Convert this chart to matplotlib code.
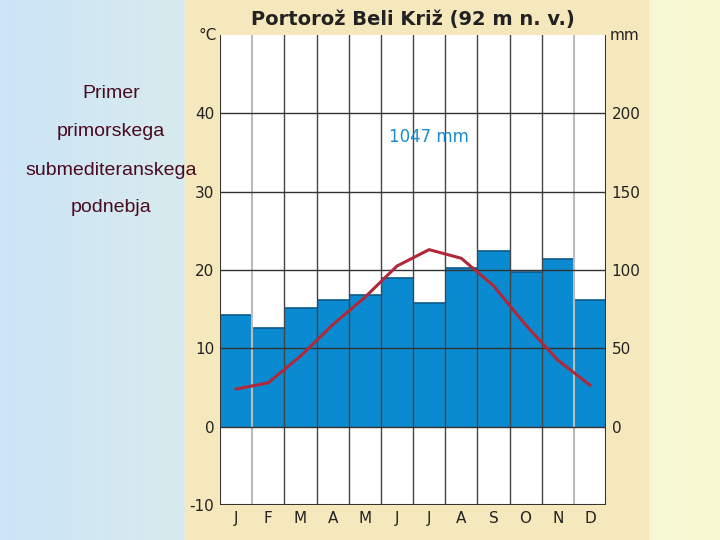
import numpy as np
import matplotlib
matplotlib.use("Agg")
import matplotlib.pyplot as plt

months = ["J", "F", "M", "A", "M", "J", "J", "A", "S", "O", "N", "D"]
precip_mm = [71, 63, 76, 81, 84, 95, 79, 101, 112, 99, 107, 81]
temp_c = [4.8, 5.6, 9.0, 13.0, 16.5, 20.5, 22.6, 21.5, 18.0, 13.0, 8.5, 5.3]
left_ticks = [-10, 0, 10, 20, 30, 40]
right_ticks = [0, 50, 100, 150, 200]

fig = plt.figure(figsize=(7.2, 5.4), dpi=100)
bg = fig.add_axes([0, 0, 1, 1])
g = np.linspace(0, 1, 256)
rgb_l = np.array([0.80, 0.90, 0.97])
rgb_r = np.array([0.98, 0.98, 0.82])
img = rgb_l[None, :] * (1 - g[:, None]) + rgb_r[None, :] * g[:, None]
bg.imshow(img[None, :, :], aspect="auto", extent=[0, 1, 0, 1])
bg.add_patch(plt.Rectangle((185/720, 0), 463/720, 1, color="#f6e8bd", zorder=2))
bg.set_xlim(0, 1); bg.set_ylim(0, 1); bg.axis("off")

for i, t in enumerate(["Primer", "primorskega", "submediteranskega", "podnebja"]):
    fig.text(111/720, 1 - (94 + i*38)/540, t, ha="center", va="center",
             fontsize=14, color="#4a0a20", family="Liberation Sans")

ax = fig.add_axes([220/720, 1 - 505/540, 386/720, 470/540])
x = np.arange(12)
ax.set_xlim(-0.5, 11.5)
ax.set_ylim(-10, 50)
ax2 = ax.twinx()
ax2.set_ylim(-50, 250)
ax2.patch.set_visible(True)
ax2.patch.set_facecolor("white")
ax2.bar(x, precip_mm, width=1.0, color="#0a8ad0", edgecolor="none", zorder=1)
ax2.hlines(precip_mm, x - 0.5, x + 0.5, color="#0a5a8a", lw=1.2, zorder=2)
ax.set_zorder(ax2.get_zorder() + 1); ax.patch.set_visible(False)

for b in np.arange(0.5, 11.5, 1.0):
    c = "#bbbbbb" if b in (0.5, 10.5) else "#444444"
    ax.axvline(b, color=c, lw=1.5 if c == "#bbbbbb" else 1.0, zorder=2)
for t in [0, 10, 20, 30, 40]:
    ax.axhline(t, color="#333333", lw=1.0, zorder=2)
ax.plot(x, temp_c, color="#b0283a", lw=2.2, zorder=3)

ax.set_yticks(left_ticks)
ax.set_yticklabels([str(v) for v in left_ticks], fontsize=11, color="#222222")
ax2.set_yticks(right_ticks)
ax2.set_yticklabels([str(v) for v in right_ticks], fontsize=11, color="#222222")
ax.set_xticks(x)
ax.set_xticklabels(months, fontsize=11, color="#222222")
for a in (ax, ax2):
    for s in a.spines.values():
        s.set_visible(False)
ax.tick_params(axis="x", length=0, pad=4)
ax.tick_params(axis="y", length=0, pad=4)
ax2.tick_params(axis="y", length=0, pad=4)
ax.axvline(-0.5, color="#333333", lw=1.5, zorder=2)
ax.axvline(11.5, color="#333333", lw=1.5, zorder=2)
ax.axhline(-10, color="#333333", lw=1.5, zorder=2)

ax.text(-0.6, 50, "°C", ha="right", va="center", fontsize=11, color="#222222")
ax.text(11.6, 50, "mm", ha="left", va="center", fontsize=11, color="#222222")
ax.text(5.5, 50.8, "Portorož Beli Križ (92 m n. v.)", ha="center", va="bottom",
        fontsize=14, fontweight="bold", color="#222222")
ax.text(6.0, 37, "1047 mm", ha="center", va="center", fontsize=12, color="#1a8ccf")

fig.savefig("out.png", dpi=100)
